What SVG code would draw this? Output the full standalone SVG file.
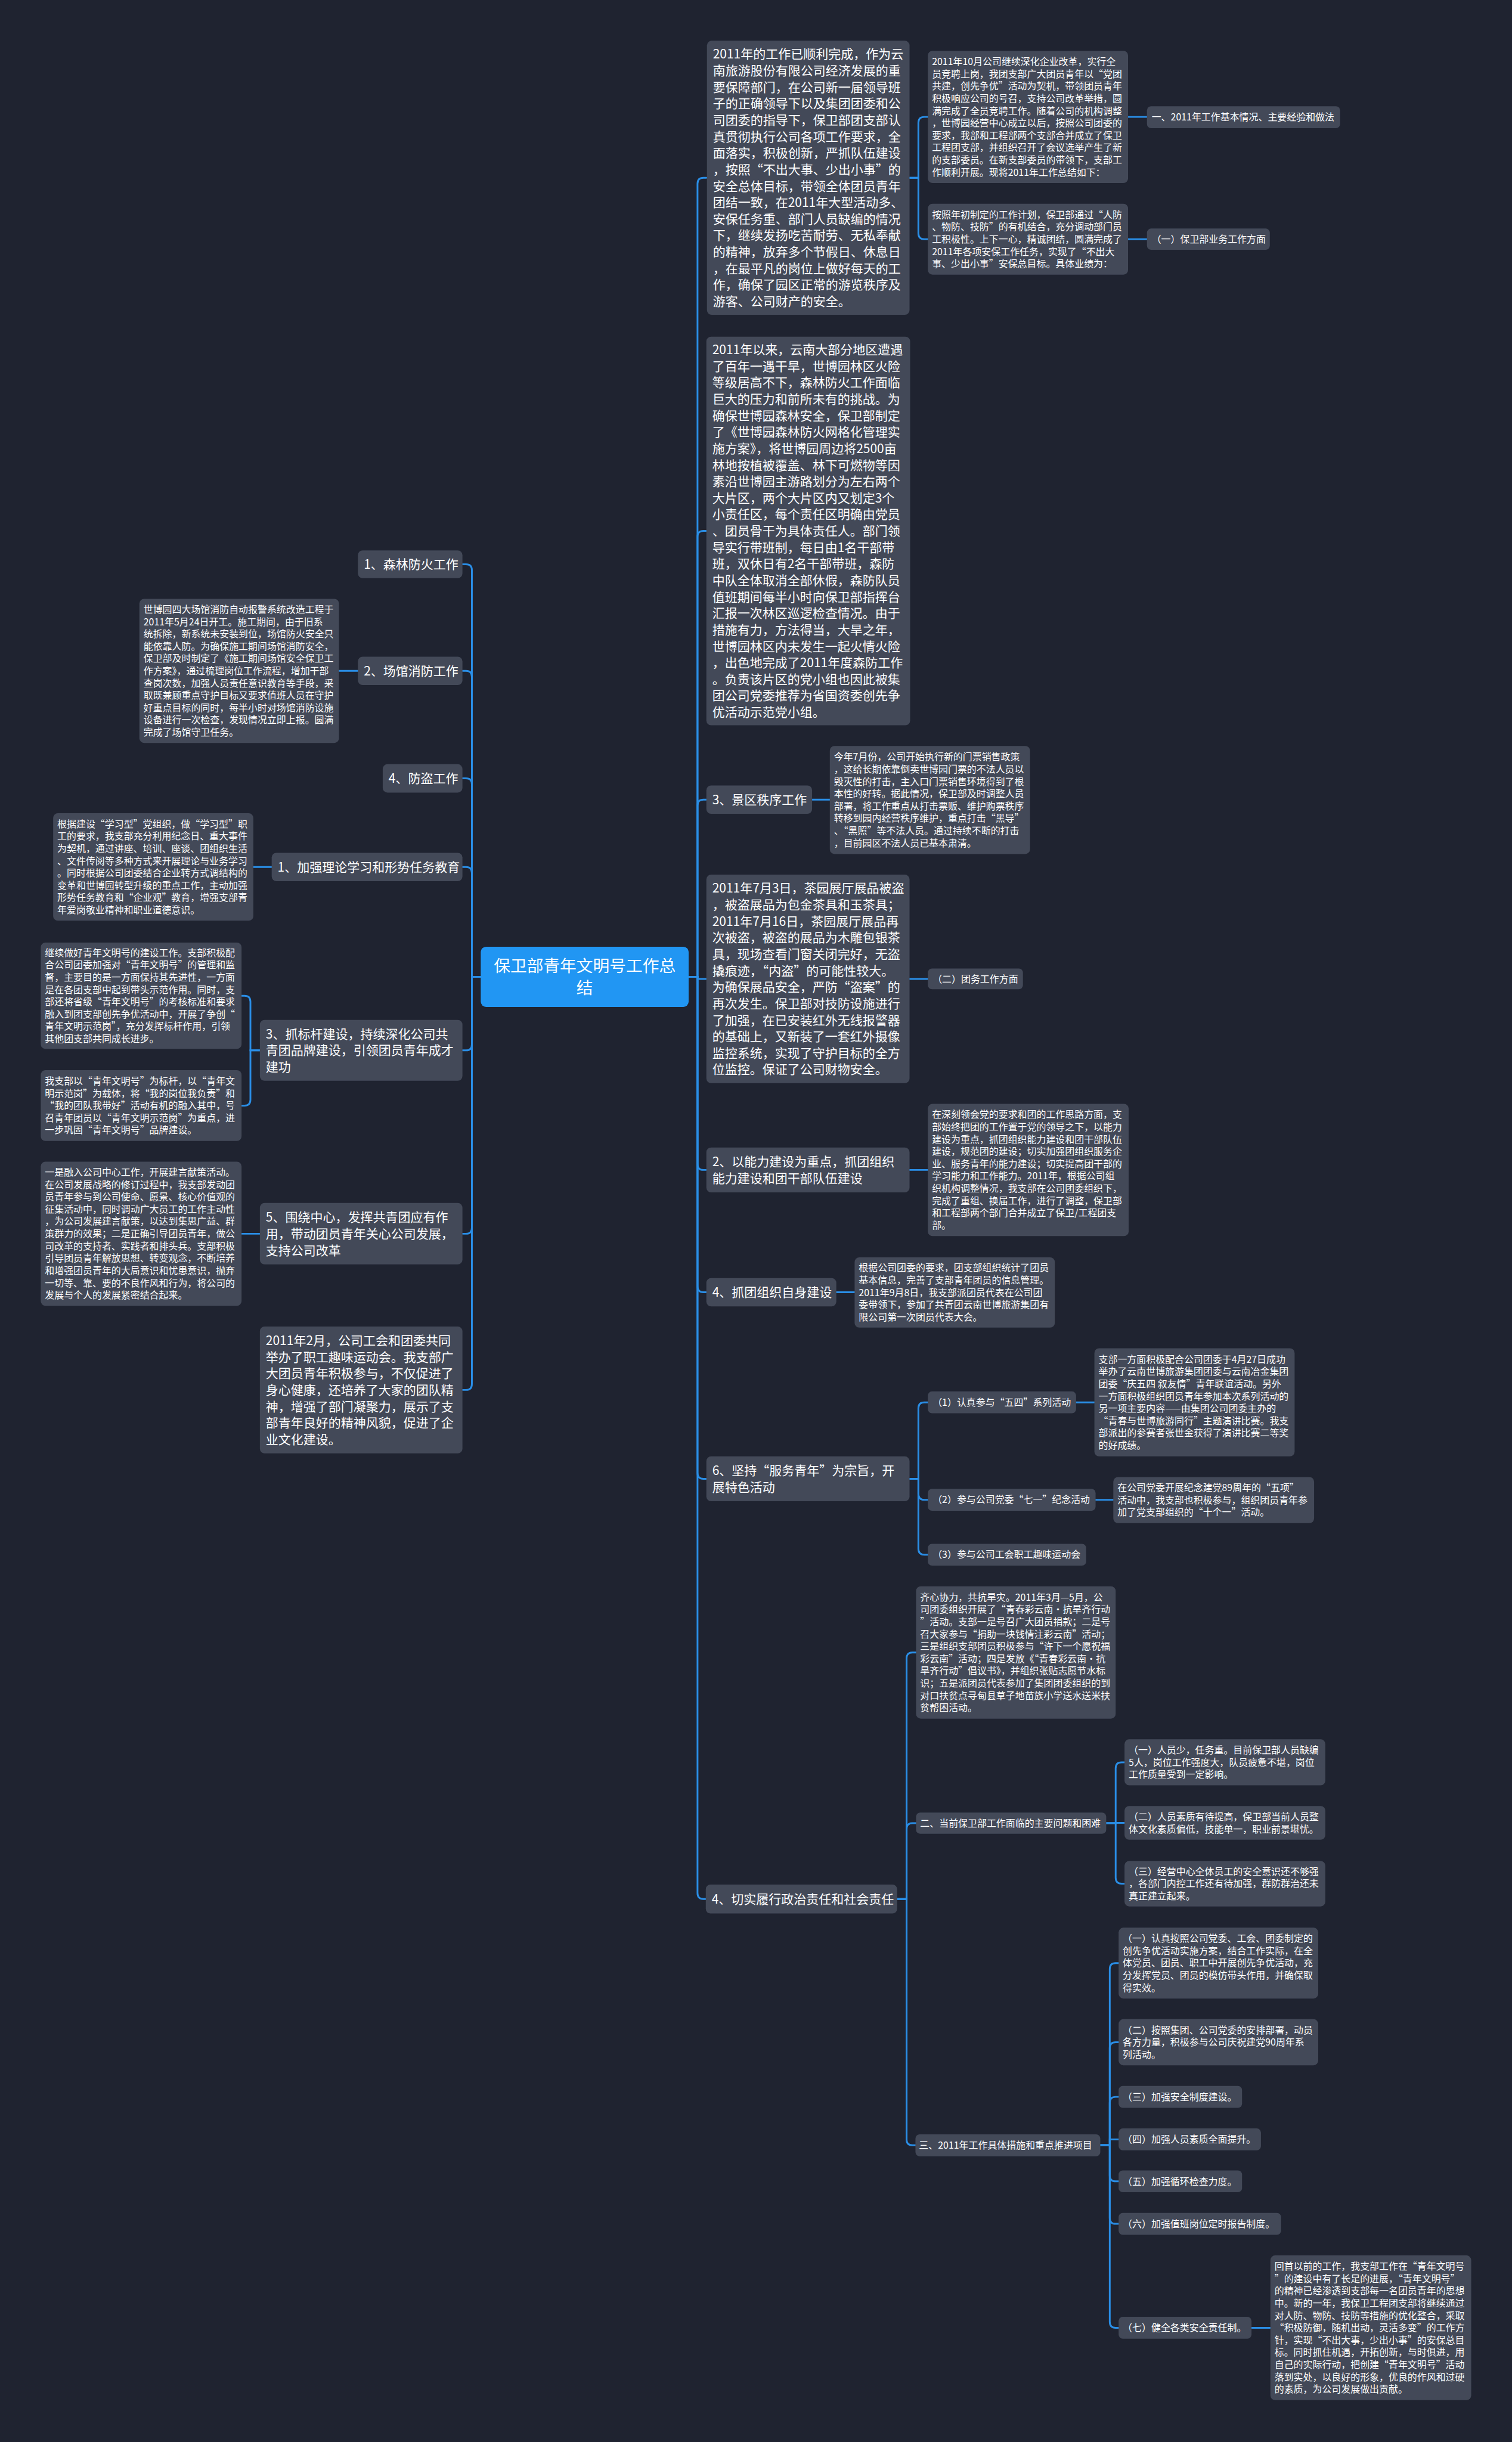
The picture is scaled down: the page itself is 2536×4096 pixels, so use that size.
<svg xmlns="http://www.w3.org/2000/svg" width="2536" height="4096" viewBox="0 0 2536 4096">
<style>
.n{fill:#434958}
.r{fill:#2196f3}
.t{fill:#ffffff;font-family:'Noto Sans CJK SC','Noto Sans CJK JP',sans-serif}
.L{font-size:21.2px}
.S{font-size:16.1px}
.R{font-size:28px}
.c{fill:none;stroke:#2a8ee6;stroke-width:3;stroke-linecap:round}
</style>
<rect width="2536" height="4096" fill="#1f2330"/>
<g transform="scale(0.9906)">
<g id="connectors">
<path class="c" d="M1166 1654 H1181 V311 Q1181 301 1191 301 H1196"/>
<path class="c" d="M1166 1654 H1181 V909 Q1181 899 1191 899 H1196"/>
<path class="c" d="M1166 1654 H1181 V1364 Q1181 1354 1191 1354 H1196"/>
<path class="c" d="M1166 1654 H1181 V1657.5 H1196"/>
<path class="c" d="M1166 1654 H1181 V1971 Q1181 1981 1191 1981 H1196"/>
<path class="c" d="M1166 1654 H1181 V2178 Q1181 2188 1191 2188 H1196"/>
<path class="c" d="M1166 1654 H1181 V2494 Q1181 2504 1191 2504 H1196"/>
<path class="c" d="M1166 1654 H1181 V3205.5 Q1181 3215.5 1191 3215.5 H1195"/>
<path class="c" d="M814 1654 H799 V965.5 Q799 955.5 789 955.5 H783"/>
<path class="c" d="M814 1654 H799 V1146 Q799 1136 789 1136 H783"/>
<path class="c" d="M814 1654 H799 V1328 Q799 1318 789 1318 H783"/>
<path class="c" d="M814 1654 H799 V1478 Q799 1468 789 1468 H783"/>
<path class="c" d="M814 1654 H799 V1768.5 Q799 1778.5 789 1778.5 H783"/>
<path class="c" d="M814 1654 H799 V2079 Q799 2089 789 2089 H783"/>
<path class="c" d="M814 1654 H799 V2343.5 Q799 2353.5 789 2353.5 H783"/>
<path class="c" d="M1540 301 H1555 V208 Q1555 198 1565 198 H1571"/>
<path class="c" d="M1540 301 H1555 V395 Q1555 405 1565 405 H1571"/>
<path class="c" d="M1910 198 H1942"/>
<path class="c" d="M1910 405 H1942"/>
<path class="c" d="M1375 1354 H1405"/>
<path class="c" d="M1540 1657.5 H1571"/>
<path class="c" d="M1540 1981 H1571"/>
<path class="c" d="M1416 2188 H1447"/>
<path class="c" d="M1540 2504 H1555 V2384.5 Q1555 2374.5 1565 2374.5 H1571"/>
<path class="c" d="M1540 2504 H1555 V2529.5 Q1555 2539.5 1565 2539.5 H1571"/>
<path class="c" d="M1540 2504 H1555 V2622.5 Q1555 2632.5 1565 2632.5 H1571"/>
<path class="c" d="M1822 2374.5 H1853"/>
<path class="c" d="M1855 2539.5 H1885"/>
<path class="c" d="M1519 3215.5 H1535 V2808 Q1535 2798 1545 2798 H1551"/>
<path class="c" d="M1519 3215.5 H1535 V3097 Q1535 3087 1545 3087 H1551"/>
<path class="c" d="M1519 3215.5 H1535 V3622.5 Q1535 3632.5 1545 3632.5 H1550"/>
<path class="c" d="M1873 3087 H1889 V2994 Q1889 2984 1899 2984 H1904"/>
<path class="c" d="M1873 3087 H1889 V3086.5 H1904"/>
<path class="c" d="M1873 3087 H1889 V3179.5 Q1889 3189.5 1899 3189.5 H1904"/>
<path class="c" d="M1863 3632.5 H1879 V3334 Q1879 3324 1889 3324 H1894"/>
<path class="c" d="M1863 3632.5 H1879 V3468 Q1879 3458 1889 3458 H1894"/>
<path class="c" d="M1863 3632.5 H1879 V3560.5 Q1879 3550.5 1889 3550.5 H1894"/>
<path class="c" d="M1863 3632.5 H1879 V3622.5 H1894"/>
<path class="c" d="M1863 3632.5 H1879 V3683.5 Q1879 3693.5 1889 3693.5 H1894"/>
<path class="c" d="M1863 3632.5 H1879 V3755.5 Q1879 3765.5 1889 3765.5 H1894"/>
<path class="c" d="M1863 3632.5 H1879 V3931.5 Q1879 3941.5 1889 3941.5 H1894"/>
<path class="c" d="M2119 3941.5 H2151"/>
<path class="c" d="M606 1136 H574"/>
<path class="c" d="M460 1468 H429"/>
<path class="c" d="M440 1778.5 H424 V1696 Q424 1686 414 1686 H409"/>
<path class="c" d="M440 1778.5 H424 V1862 Q424 1872 414 1872 H409"/>
<path class="c" d="M440 2089 H409"/>
</g>
<g id="root">
<rect class="r" x="814" y="1603" width="352" height="102" rx="9"/>
<text class="t R" text-anchor="middle" x="990" y="1645"><tspan x="990">保卫部青年文明号工作总</tspan><tspan x="990" dy="38">结</tspan></text>
</g>
<g id="n_a1">
<rect class="n" x="1197" y="69" width="343" height="464" rx="8"/>
<text class="t L" x="1207" y="99.35"><tspan x="1207">2011年的工作已顺利完成，作为云</tspan><tspan x="1207" dy="27.9">南旅游股份有限公司经济发展的重</tspan><tspan x="1207" dy="27.9">要保障部门，在公司新一届领导班</tspan><tspan x="1207" dy="27.9">子的正确领导下以及集团团委和公</tspan><tspan x="1207" dy="27.9">司团委的指导下，保卫部团支部认</tspan><tspan x="1207" dy="27.9">真贯彻执行公司各项工作要求，全</tspan><tspan x="1207" dy="27.9">面落实，积极创新，严抓队伍建设</tspan><tspan x="1207" dy="27.9">，按照“不出大事、少出小事”的</tspan><tspan x="1207" dy="27.9">安全总体目标，带领全体团员青年</tspan><tspan x="1207" dy="27.9">团结一致，在2011年大型活动多、</tspan><tspan x="1207" dy="27.9">安保任务重、部门人员缺编的情况</tspan><tspan x="1207" dy="27.9">下，继续发扬吃苦耐劳、无私奉献</tspan><tspan x="1207" dy="27.9">的精神，放弃多个节假日、休息日</tspan><tspan x="1207" dy="27.9">，在最平凡的岗位上做好每天的工</tspan><tspan x="1207" dy="27.9">作，确保了园区正常的游览秩序及</tspan><tspan x="1207" dy="27.9">游客、公司财产的安全。</tspan></text>
</g>
<g id="n_b1">
<rect class="n" x="1571" y="86" width="339" height="224" rx="8"/>
<text class="t S" x="1578" y="110.2"><tspan x="1578">2011年10月公司继续深化企业改革，实行全</tspan><tspan x="1578" dy="20.8">员竞聘上岗，我团支部广大团员青年以“党团</tspan><tspan x="1578" dy="20.8">共建，创先争优”活动为契机，带领团员青年</tspan><tspan x="1578" dy="20.8">积极响应公司的号召，支持公司改革举措，圆</tspan><tspan x="1578" dy="20.8">满完成了全员竞聘工作。随着公司的机构调整</tspan><tspan x="1578" dy="20.8">，世博园经营中心成立以后，按照公司团委的</tspan><tspan x="1578" dy="20.8">要求，我部和工程部两个支部合并成立了保卫</tspan><tspan x="1578" dy="20.8">工程团支部，并组织召开了会议选举产生了新</tspan><tspan x="1578" dy="20.8">的支部委员。在新支部委员的带领下，支部工</tspan><tspan x="1578" dy="20.8">作顺利开展。现将2011年工作总结如下：</tspan></text>
</g>
<g id="n_h1">
<rect class="n" x="1942" y="180" width="327" height="37" rx="7"/>
<text class="t S" x="1950" y="204.3">一、2011年工作基本情况、主要经验和做法</text>
</g>
<g id="n_b2">
<rect class="n" x="1571" y="345" width="339" height="120" rx="8"/>
<text class="t S" x="1578" y="369.2"><tspan x="1578">按照年初制定的工作计划，保卫部通过“人防</tspan><tspan x="1578" dy="20.8">、物防、技防”的有机结合，充分调动部门员</tspan><tspan x="1578" dy="20.8">工积极性。上下一心，精诚团结，圆满完成了</tspan><tspan x="1578" dy="20.8">2011年各项安保工作任务，实现了“不出大</tspan><tspan x="1578" dy="20.8">事、少出小事”安保总目标。具体业绩为：</tspan></text>
</g>
<g id="n_h2">
<rect class="n" x="1942" y="387" width="208" height="36" rx="7"/>
<text class="t S" x="1950" y="410.8">（一）保卫部业务工作方面</text>
</g>
<g id="n_a2">
<rect class="n" x="1196" y="570" width="345" height="658" rx="8"/>
<text class="t L" x="1206" y="599.7"><tspan x="1206">2011年以来，云南大部分地区遭遇</tspan><tspan x="1206" dy="27.9">了百年一遇干旱，世博园林区火险</tspan><tspan x="1206" dy="27.9">等级居高不下，森林防火工作面临</tspan><tspan x="1206" dy="27.9">巨大的压力和前所未有的挑战。为</tspan><tspan x="1206" dy="27.9">确保世博园森林安全，保卫部制定</tspan><tspan x="1206" dy="27.9">了《世博园森林防火网格化管理实</tspan><tspan x="1206" dy="27.9">施方案》，将世博园周边将2500亩</tspan><tspan x="1206" dy="27.9">林地按植被覆盖、林下可燃物等因</tspan><tspan x="1206" dy="27.9">素沿世博园主游路划分为左右两个</tspan><tspan x="1206" dy="27.9">大片区，两个大片区内又划定3个</tspan><tspan x="1206" dy="27.9">小责任区，每个责任区明确由党员</tspan><tspan x="1206" dy="27.9">、团员骨干为具体责任人。部门领</tspan><tspan x="1206" dy="27.9">导实行带班制，每日由1名干部带</tspan><tspan x="1206" dy="27.9">班，双休日有2名干部带班，森防</tspan><tspan x="1206" dy="27.9">中队全体取消全部休假，森防队员</tspan><tspan x="1206" dy="27.9">值班期间每半小时向保卫部指挥台</tspan><tspan x="1206" dy="27.9">汇报一次林区巡逻检查情况。由于</tspan><tspan x="1206" dy="27.9">措施有力，方法得当，大旱之年，</tspan><tspan x="1206" dy="27.9">世博园林区内未发生一起火情火险</tspan><tspan x="1206" dy="27.9">，出色地完成了2011年度森防工作</tspan><tspan x="1206" dy="27.9">。负责该片区的党小组也因此被集</tspan><tspan x="1206" dy="27.9">团公司党委推荐为省国资委创先争</tspan><tspan x="1206" dy="27.9">优活动示范党小组。</tspan></text>
</g>
<g id="n_jq">
<rect class="n" x="1196" y="1330" width="179" height="48" rx="8"/>
<text class="t L" x="1206" y="1361.6">3、景区秩序工作</text>
</g>
<g id="n_d">
<rect class="n" x="1405" y="1263" width="339" height="183" rx="8"/>
<text class="t S" x="1412" y="1287.5"><tspan x="1412">今年7月份，公司开始执行新的门票销售政策</tspan><tspan x="1412" dy="20.8">，这给长期依靠倒卖世博园门票的不法人员以</tspan><tspan x="1412" dy="20.8">毁灭性的打击，主入口门票销售环境得到了根</tspan><tspan x="1412" dy="20.8">本性的好转。据此情况，保卫部及时调整人员</tspan><tspan x="1412" dy="20.8">部署，将工作重点从打击票贩、维护购票秩序</tspan><tspan x="1412" dy="20.8">转移到园内经营秩序维护，重点打击“黑导”</tspan><tspan x="1412" dy="20.8">、“黑照”等不法人员。通过持续不断的打击</tspan><tspan x="1412" dy="20.8">，目前园区不法人员已基本肃清。</tspan></text>
</g>
<g id="n_c">
<rect class="n" x="1196" y="1481" width="344" height="353" rx="8"/>
<text class="t L" x="1206" y="1511.65"><tspan x="1206">2011年7月3日，茶园展厅展品被盗</tspan><tspan x="1206" dy="27.9">，被盗展品为包金茶具和玉茶具；</tspan><tspan x="1206" dy="27.9">2011年7月16日，茶园展厅展品再</tspan><tspan x="1206" dy="27.9">次被盗，被盗的展品为木雕包银茶</tspan><tspan x="1206" dy="27.9">具，现场查看门窗关闭完好，无盗</tspan><tspan x="1206" dy="27.9">撬痕迹，“内盗”的可能性较大。</tspan><tspan x="1206" dy="27.9">为确保展品安全，严防“盗案”的</tspan><tspan x="1206" dy="27.9">再次发生。保卫部对技防设施进行</tspan><tspan x="1206" dy="27.9">了加强，在已安装红外无线报警器</tspan><tspan x="1206" dy="27.9">的基础上，又新装了一套红外摄像</tspan><tspan x="1206" dy="27.9">监控系统，实现了守护目标的全方</tspan><tspan x="1206" dy="27.9">位监控。保证了公司财物安全。</tspan></text>
</g>
<g id="n_tw">
<rect class="n" x="1571" y="1640" width="161" height="35" rx="7"/>
<text class="t S" x="1579" y="1663.3">（二）团务工作方面</text>
</g>
<g id="n_nl">
<rect class="n" x="1196" y="1943" width="344" height="76" rx="8"/>
<text class="t L" x="1206" y="1974.65"><tspan x="1206">2、以能力建设为重点，抓团组织</tspan><tspan x="1206" dy="27.9">能力建设和团干部队伍建设</tspan></text>
</g>
<g id="n_e">
<rect class="n" x="1571" y="1869" width="340" height="224" rx="8"/>
<text class="t S" x="1578" y="1893.2"><tspan x="1578">在深刻领会党的要求和团的工作思路方面，支</tspan><tspan x="1578" dy="20.8">部始终把团的工作置于党的领导之下，以能力</tspan><tspan x="1578" dy="20.8">建设为重点，抓团组织能力建设和团干部队伍</tspan><tspan x="1578" dy="20.8">建设，规范团的建设；切实加强团组织服务企</tspan><tspan x="1578" dy="20.8">业、服务青年的能力建设；切实提高团干部的</tspan><tspan x="1578" dy="20.8">学习能力和工作能力。2011年，根据公司组</tspan><tspan x="1578" dy="20.8">织机构调整情况，我支部在公司团委组织下，</tspan><tspan x="1578" dy="20.8">完成了重组、换届工作，进行了调整，保卫部</tspan><tspan x="1578" dy="20.8">和工程部两个部门合并成立了保卫/工程团支</tspan><tspan x="1578" dy="20.8">部。</tspan></text>
</g>
<g id="n_zt">
<rect class="n" x="1196" y="2164" width="220" height="48" rx="8"/>
<text class="t L" x="1206" y="2195.6">4、抓团组织自身建设</text>
</g>
<g id="n_f">
<rect class="n" x="1447" y="2129" width="339" height="119" rx="8"/>
<text class="t S" x="1454" y="2152.7"><tspan x="1454">根据公司团委的要求，团支部组织统计了团员</tspan><tspan x="1454" dy="20.8">基本信息，完善了支部青年团员的信息管理。</tspan><tspan x="1454" dy="20.8">2011年9月8日，我支部派团员代表在公司团</tspan><tspan x="1454" dy="20.8">委带领下，参加了共青团云南世博旅游集团有</tspan><tspan x="1454" dy="20.8">限公司第一次团员代表大会。</tspan></text>
</g>
<g id="n_6">
<rect class="n" x="1196" y="2466" width="344" height="76" rx="8"/>
<text class="t L" x="1206" y="2497.65"><tspan x="1206">6、坚持“服务青年”为宗旨，开</tspan><tspan x="1206" dy="27.9">展特色活动</tspan></text>
</g>
<g id="n_61">
<rect class="n" x="1571" y="2356" width="251" height="37" rx="7"/>
<text class="t S" x="1579" y="2380.3">（1）认真参与“五四”系列活动</text>
</g>
<g id="n_g">
<rect class="n" x="1853" y="2283" width="339" height="183" rx="8"/>
<text class="t S" x="1860" y="2307.5"><tspan x="1860">支部一方面积极配合公司团委于4月27日成功</tspan><tspan x="1860" dy="20.8">举办了云南世博旅游集团团委与云南冶金集团</tspan><tspan x="1860" dy="20.8">团委“庆五四 叙友情”青年联谊活动。另外</tspan><tspan x="1860" dy="20.8">一方面积极组织团员青年参加本次系列活动的</tspan><tspan x="1860" dy="20.8">另一项主要内容——由集团公司团委主办的</tspan><tspan x="1860" dy="20.8">“青春与世博旅游同行”主题演讲比赛。我支</tspan><tspan x="1860" dy="20.8">部派出的参赛者张世金获得了演讲比赛二等奖</tspan><tspan x="1860" dy="20.8">的好成绩。</tspan></text>
</g>
<g id="n_62">
<rect class="n" x="1571" y="2521" width="284" height="37" rx="7"/>
<text class="t S" x="1579" y="2545.3">（2）参与公司党委“七一”纪念活动</text>
</g>
<g id="n_h">
<rect class="n" x="1885" y="2501" width="340" height="78" rx="8"/>
<text class="t S" x="1892" y="2525"><tspan x="1892">在公司党委开展纪念建党89周年的“五项”</tspan><tspan x="1892" dy="20.8">活动中，我支部也积极参与，组织团员青年参</tspan><tspan x="1892" dy="20.8">加了党支部组织的“十个一”活动。</tspan></text>
</g>
<g id="n_63">
<rect class="n" x="1571" y="2614" width="268" height="37" rx="7"/>
<text class="t S" x="1579" y="2638.3">（3）参与公司工会职工趣味运动会</text>
</g>
<g id="n_qs">
<rect class="n" x="1195" y="3191" width="324" height="49" rx="8"/>
<text class="t L" x="1205" y="3223.1">4、切实履行政治责任和社会责任</text>
</g>
<g id="n_i">
<rect class="n" x="1551" y="2686" width="338" height="224" rx="8"/>
<text class="t S" x="1558" y="2710.2"><tspan x="1558">齐心协力，共抗旱灾。2011年3月—5月，公</tspan><tspan x="1558" dy="20.8">司团委组织开展了“青春彩云南·抗旱齐行动</tspan><tspan x="1558" dy="20.8">”活动。支部一是号召广大团员捐款；二是号</tspan><tspan x="1558" dy="20.8">召大家参与“捐助一块钱情注彩云南”活动；</tspan><tspan x="1558" dy="20.8">三是组织支部团员积极参与“许下一个愿祝福</tspan><tspan x="1558" dy="20.8">彩云南”活动；四是发放《“青春彩云南·抗</tspan><tspan x="1558" dy="20.8">旱齐行动”倡议书》，并组织张贴志愿节水标</tspan><tspan x="1558" dy="20.8">识；五是派团员代表参加了集团团委组织的到</tspan><tspan x="1558" dy="20.8">对口扶贫点寻甸县草子地苗族小学送水送米扶</tspan><tspan x="1558" dy="20.8">贫帮困活动。</tspan></text>
</g>
<g id="n_er">
<rect class="n" x="1551" y="3069" width="322" height="36" rx="7"/>
<text class="t S" x="1558" y="3092.8">二、当前保卫部工作面临的主要问题和困难</text>
</g>
<g id="n_er1">
<rect class="n" x="1904" y="2945" width="340" height="78" rx="8"/>
<text class="t S" x="1911" y="2969"><tspan x="1911">（一）人员少，任务重。目前保卫部人员缺编</tspan><tspan x="1911" dy="20.8">5人，岗位工作强度大，队员疲惫不堪，岗位</tspan><tspan x="1911" dy="20.8">工作质量受到一定影响。</tspan></text>
</g>
<g id="n_er2">
<rect class="n" x="1904" y="3058" width="340" height="57" rx="8"/>
<text class="t S" x="1911" y="3081.9"><tspan x="1911">（二）人员素质有待提高，保卫部当前人员整</tspan><tspan x="1911" dy="20.8">体文化素质偏低，技能单一，职业前景堪忧。</tspan></text>
</g>
<g id="n_er3">
<rect class="n" x="1904" y="3151" width="340" height="77" rx="8"/>
<text class="t S" x="1911" y="3174.5"><tspan x="1911">（三）经营中心全体员工的安全意识还不够强</tspan><tspan x="1911" dy="20.8">，各部门内控工作还有待加强，群防群治还未</tspan><tspan x="1911" dy="20.8">真正建立起来。</tspan></text>
</g>
<g id="n_san">
<rect class="n" x="1550" y="3614" width="313" height="37" rx="7"/>
<text class="t S" x="1556" y="3638.3">三、2011年工作具体措施和重点推进项目</text>
</g>
<g id="n_s1">
<rect class="n" x="1894" y="3264" width="338" height="120" rx="8"/>
<text class="t S" x="1901" y="3288.2"><tspan x="1901">（一）认真按照公司党委、工会、团委制定的</tspan><tspan x="1901" dy="20.8">创先争优活动实施方案，结合工作实际，在全</tspan><tspan x="1901" dy="20.8">体党员、团员、职工中开展创先争优活动，充</tspan><tspan x="1901" dy="20.8">分发挥党员、团员的模仿带头作用，并确保取</tspan><tspan x="1901" dy="20.8">得实效。</tspan></text>
</g>
<g id="n_s2">
<rect class="n" x="1894" y="3419" width="338" height="78" rx="8"/>
<text class="t S" x="1901" y="3443"><tspan x="1901">（二）按照集团、公司党委的安排部署，动员</tspan><tspan x="1901" dy="20.8">各方力量，积极参与公司庆祝建党90周年系</tspan><tspan x="1901" dy="20.8">列活动。</tspan></text>
</g>
<g id="n_s3">
<rect class="n" x="1894" y="3532" width="209" height="37" rx="7"/>
<text class="t S" x="1901" y="3556.3">（三）加强安全制度建设。</text>
</g>
<g id="n_s4">
<rect class="n" x="1894" y="3604" width="241" height="37" rx="7"/>
<text class="t S" x="1901" y="3628.3">（四）加强人员素质全面提升。</text>
</g>
<g id="n_s5">
<rect class="n" x="1894" y="3675" width="209" height="37" rx="7"/>
<text class="t S" x="1901" y="3699.3">（五）加强循环检查力度。</text>
</g>
<g id="n_s6">
<rect class="n" x="1894" y="3747" width="275" height="37" rx="7"/>
<text class="t S" x="1901" y="3771.3">（六）加强值班岗位定时报告制度。</text>
</g>
<g id="n_s7">
<rect class="n" x="1894" y="3923" width="225" height="37" rx="7"/>
<text class="t S" x="1901" y="3947.3">（七）健全各类安全责任制。</text>
</g>
<g id="n_j">
<rect class="n" x="2151" y="3819" width="340" height="245" rx="8"/>
<text class="t S" x="2158" y="3843.3"><tspan x="2158">回首以前的工作，我支部工作在“青年文明号</tspan><tspan x="2158" dy="20.8">”的建设中有了长足的进展，“青年文明号”</tspan><tspan x="2158" dy="20.8">的精神已经渗透到支部每一名团员青年的思想</tspan><tspan x="2158" dy="20.8">中。新的一年，我保卫工程团支部将继续通过</tspan><tspan x="2158" dy="20.8">对人防、物防、技防等措施的优化整合，采取</tspan><tspan x="2158" dy="20.8">“积极防御，随机出动，灵活多变”的工作方</tspan><tspan x="2158" dy="20.8">针，实现“不出大事，少出小事”的安保总目</tspan><tspan x="2158" dy="20.8">标。同时抓住机遇，开拓创新，与时俱进，用</tspan><tspan x="2158" dy="20.8">自己的实际行动，把创建“青年文明号”活动</tspan><tspan x="2158" dy="20.8">落到实处，以良好的形象，优良的作风和过硬</tspan><tspan x="2158" dy="20.8">的素质，为公司发展做出贡献。</tspan></text>
</g>
<g id="n_l1">
<rect class="n" x="606" y="932" width="177" height="47" rx="8"/>
<text class="t L" x="616" y="963.1">1、森林防火工作</text>
</g>
<g id="n_l2">
<rect class="n" x="606" y="1112" width="177" height="48" rx="8"/>
<text class="t L" x="616" y="1143.6">2、场馆消防工作</text>
</g>
<g id="n_k">
<rect class="n" x="236" y="1014" width="338" height="244" rx="8"/>
<text class="t S" x="243" y="1037.8"><tspan x="243">世博园四大场馆消防自动报警系统改造工程于</tspan><tspan x="243" dy="20.8">2011年5月24日开工。施工期间，由于旧系</tspan><tspan x="243" dy="20.8">统拆除，新系统未安装到位，场馆防火安全只</tspan><tspan x="243" dy="20.8">能依靠人防。为确保施工期间场馆消防安全，</tspan><tspan x="243" dy="20.8">保卫部及时制定了《施工期间场馆安全保卫工</tspan><tspan x="243" dy="20.8">作方案》，通过梳理岗位工作流程，增加干部</tspan><tspan x="243" dy="20.8">查岗次数，加强人员责任意识教育等手段，采</tspan><tspan x="243" dy="20.8">取既兼顾重点守护目标又要求值班人员在守护</tspan><tspan x="243" dy="20.8">好重点目标的同时，每半小时对场馆消防设施</tspan><tspan x="243" dy="20.8">设备进行一次检查，发现情况立即上报。圆满</tspan><tspan x="243" dy="20.8">完成了场馆守卫任务。</tspan></text>
</g>
<g id="n_l4">
<rect class="n" x="648" y="1294" width="135" height="48" rx="8"/>
<text class="t L" x="658" y="1325.6">4、防盗工作</text>
</g>
<g id="n_l5">
<rect class="n" x="460" y="1444" width="323" height="48" rx="8"/>
<text class="t L" x="470" y="1475.6">1、加强理论学习和形势任务教育</text>
</g>
<g id="n_ll">
<rect class="n" x="90" y="1377" width="339" height="182" rx="8"/>
<text class="t S" x="97" y="1401"><tspan x="97">根据建设“学习型”党组织，做“学习型”职</tspan><tspan x="97" dy="20.8">工的要求，我支部充分利用纪念日、重大事件</tspan><tspan x="97" dy="20.8">为契机，通过讲座、培训、座谈、团组织生活</tspan><tspan x="97" dy="20.8">、文件传阅等多种方式来开展理论与业务学习</tspan><tspan x="97" dy="20.8">。同时根据公司团委结合企业转方式调结构的</tspan><tspan x="97" dy="20.8">变革和世博园转型升级的重点工作，主动加强</tspan><tspan x="97" dy="20.8">形势任务教育和“企业观”教育，增强支部青</tspan><tspan x="97" dy="20.8">年爱岗敬业精神和职业道德意识。</tspan></text>
</g>
<g id="n_l3">
<rect class="n" x="440" y="1727" width="343" height="103" rx="8"/>
<text class="t L" x="450" y="1758.2"><tspan x="450">3、抓标杆建设，持续深化公司共</tspan><tspan x="450" dy="27.9">青团品牌建设，引领团员青年成才</tspan><tspan x="450" dy="27.9">建功</tspan></text>
</g>
<g id="n_m">
<rect class="n" x="69" y="1596" width="340" height="180" rx="8"/>
<text class="t S" x="76" y="1619"><tspan x="76">继续做好青年文明号的建设工作。支部积极配</tspan><tspan x="76" dy="20.8">合公司团委加强对“青年文明号”的管理和监</tspan><tspan x="76" dy="20.8">督，主要目的是一方面保持其先进性，一方面</tspan><tspan x="76" dy="20.8">是在各团支部中起到带头示范作用。同时，支</tspan><tspan x="76" dy="20.8">部还将省级“青年文明号”的考核标准和要求</tspan><tspan x="76" dy="20.8">融入到团支部创先争优活动中，开展了争创“</tspan><tspan x="76" dy="20.8">青年文明示范岗”，充分发挥标杆作用，引领</tspan><tspan x="76" dy="20.8">其他团支部共同成长进步。</tspan></text>
</g>
<g id="n_n">
<rect class="n" x="69" y="1812" width="340" height="120" rx="8"/>
<text class="t S" x="76" y="1836.2"><tspan x="76">我支部以“青年文明号”为标杆，以“青年文</tspan><tspan x="76" dy="20.8">明示范岗”为载体，将“我的岗位我负责”和</tspan><tspan x="76" dy="20.8">“我的团队我带好”活动有机的融入其中，号</tspan><tspan x="76" dy="20.8">召青年团员以“青年文明示范岗”为重点，进</tspan><tspan x="76" dy="20.8">一步巩固“青年文明号”品牌建设。</tspan></text>
</g>
<g id="n_l6">
<rect class="n" x="440" y="2037" width="343" height="104" rx="8"/>
<text class="t L" x="450" y="2068.7"><tspan x="450">5、围绕中心，发挥共青团应有作</tspan><tspan x="450" dy="27.9">用，带动团员青年关心公司发展，</tspan><tspan x="450" dy="27.9">支持公司改革</tspan></text>
</g>
<g id="n_o">
<rect class="n" x="69" y="1967" width="340" height="244" rx="8"/>
<text class="t S" x="76" y="1990.8"><tspan x="76">一是融入公司中心工作，开展建言献策活动。</tspan><tspan x="76" dy="20.8">在公司发展战略的修订过程中，我支部发动团</tspan><tspan x="76" dy="20.8">员青年参与到公司使命、愿景、核心价值观的</tspan><tspan x="76" dy="20.8">征集活动中，同时调动广大员工的工作主动性</tspan><tspan x="76" dy="20.8">，为公司发展建言献策，以达到集思广益、群</tspan><tspan x="76" dy="20.8">策群力的效果；二是正确引导团员青年，做公</tspan><tspan x="76" dy="20.8">司改革的支持者、实践者和排头兵。支部积极</tspan><tspan x="76" dy="20.8">引导团员青年解放思想、转变观念，不断培养</tspan><tspan x="76" dy="20.8">和增强团员青年的大局意识和忧患意识，抛弃</tspan><tspan x="76" dy="20.8">一切等、靠、要的不良作风和行为，将公司的</tspan><tspan x="76" dy="20.8">发展与个人的发展紧密结合起来。</tspan></text>
</g>
<g id="n_l7">
<rect class="n" x="440" y="2246" width="343" height="215" rx="8"/>
<text class="t L" x="450" y="2277.4"><tspan x="450">2011年2月，公司工会和团委共同</tspan><tspan x="450" dy="27.9">举办了职工趣味运动会。我支部广</tspan><tspan x="450" dy="27.9">大团员青年积极参与，不仅促进了</tspan><tspan x="450" dy="27.9">身心健康，还培养了大家的团队精</tspan><tspan x="450" dy="27.9">神，增强了部门凝聚力，展示了支</tspan><tspan x="450" dy="27.9">部青年良好的精神风貌，促进了企</tspan><tspan x="450" dy="27.9">业文化建设。</tspan></text>
</g>
</g>
</svg>
